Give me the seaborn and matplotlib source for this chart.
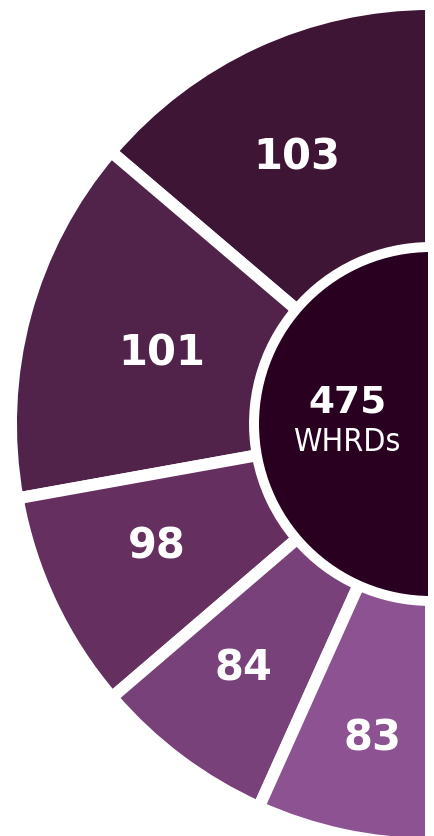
import matplotlib
matplotlib.use("Agg")
import numpy as np
import matplotlib.pyplot as plt
from matplotlib.patches import Wedge
import seaborn as sns

# ---- data ----
values = [103, 101, 98, 84, 83]               # segment labels
arc_deg = [49.6, 50.6, 30.4, 25.2, 24.2]       # angular share of each segment (deg)
total_label = "475"
total_sub = "WHRDs"
seg_colors = ["#3e1534", "#51224a", "#652f60", "#78417a", "#8d5292"]
center_color = "#2a0020"

sns.set_theme(style="white")
plt.rcParams["font.family"] = ["DejaVu Sans"]

W, H = 434, 836
fig = plt.figure(figsize=(W / 100, H / 100), dpi=100)
fig.patch.set_facecolor("white")
ax = fig.add_axes([0, 0, 428 / W, 1])

R_out, R_in, r_center = 420, 176, 172
rest = 360 - sum(arc_deg)
wedges, _ = ax.pie(arc_deg + [rest], colors=seg_colors + ["none"], startangle=90,
                   counterclock=True, radius=R_out, center=(0, 0),
                   wedgeprops=dict(width=R_out - R_in, edgecolor="white", linewidth=8.6))
wedges[-1].set_edgecolor("none")

ax.add_patch(Wedge((0, 0), r_center, 90, 270, facecolor=center_color, edgecolor="none"))

# label placement (polar layout, degrees / px)
label_ang = [116.7, 165.4, 204.1, 232.6, 259.5]
label_r = [298, 278, 300, 308, 320]
for v, a, r in zip(values, label_ang, label_r):
    t = np.deg2rad(a)
    ax.text(r * np.cos(t), r * np.sin(t), str(v), color="white", fontsize=30,
            fontweight="bold", ha="center", va="center")

ax.text(-84, 22, total_label, color="white", fontsize=27, fontweight="bold",
        ha="center", va="center")
ax.text(-84, -18, total_sub, color="white", fontsize=23, fontstretch="condensed",
        family=["DejaVu Sans"], ha="center", va="center")

ax.set_xlim(-431, -3)
ax.set_ylim(-412, 424)
ax.set_aspect("auto")
ax.axis("off")

fig.savefig("out.png", dpi=100, facecolor="white")
